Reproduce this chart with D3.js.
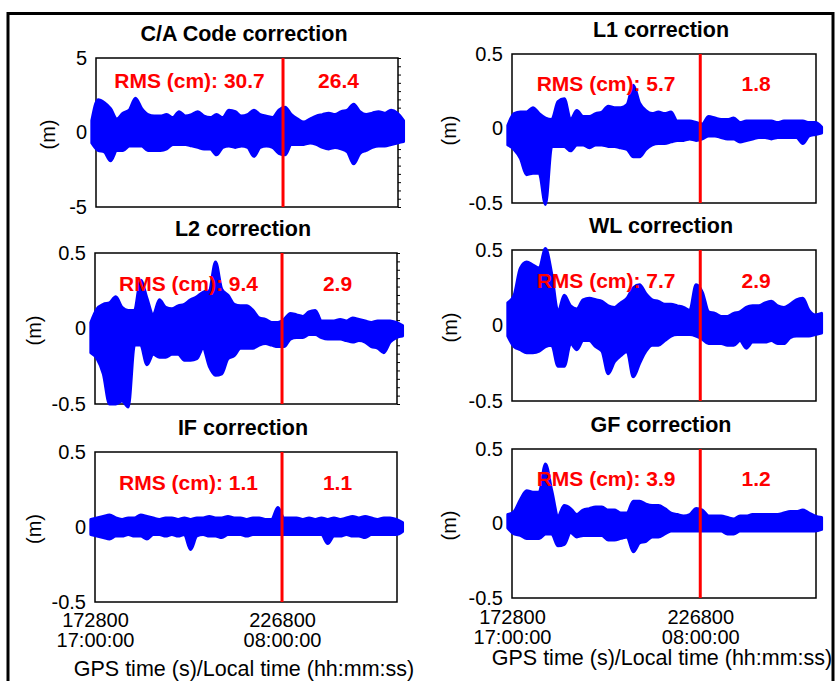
<!DOCTYPE html>
<html><head><meta charset="utf-8">
<script src="https://cdn.jsdelivr.net/npm/d3@7"></script>
<style>
html,body{margin:0;padding:0;background:#fff;}
svg{display:block;}
text{font-family:"Liberation Sans",Arial,sans-serif;}
</style></head><body>
<svg id="chart" width="836" height="681"></svg>
<script>
// ---------- data ----------
const times = [171600,173400,175200,177000,178800,180600,182400,184200,186000,187800,189600,191400,193200,195000,196800,198600,200400,202200,204000,205800,207600,209400,211200,213000,214800,216600,218400,220200,222000,223800,225600,227400,229200,231000,232800,234600,236400,238200,240000,241800,243600,245400,247200,249000,250800,252600,254400,256200,258000,259800,261600];

const titles = ["C/A Code correction","L1 correction","L2 correction","WL correction","IF correction","GF correction"];
const rmsBefore = ["30.7","5.7","9.4","7.7","1.1","3.9"];
const rmsAfter = ["26.4","1.8","2.9","2.9","1.1","1.2"];

const caUpper = [0.8,2.2,2.0,1.6,0.9,1.3,1.5,2.3,1.6,1.2,1.1,1.1,1.2,1.0,1.4,1.1,1.2,1.4,1.1,1.0,1.2,1.0,1.5,1.4,1.1,1.2,1.5,1.2,1.1,1.0,1.5,1.7,1.2,0.9,0.7,0.9,1.1,1.2,1.3,1.2,1.4,1.5,1.9,1.4,1.2,1.3,1.4,1.3,1.5,1.3,0.8];
const caLower = [-0.7,-1.2,-1.3,-1.9,-1.2,-1.2,-0.9,-0.9,-0.9,-1.2,-1.2,-1.2,-1.1,-0.8,-0.8,-0.8,-0.9,-1.0,-1.1,-1.1,-1.5,-1.0,-0.9,-1.0,-0.9,-1.0,-1.6,-1.0,-0.9,-1.0,-1.4,-1.5,-0.8,-0.8,-0.8,-0.7,-0.8,-1.0,-1.1,-1.0,-1.1,-1.3,-2.1,-1.4,-1.2,-1.0,-0.9,-0.9,-0.8,-0.7,-0.6];

const l1Upper = [0.02,0.10,0.11,0.11,0.14,0.10,0.07,0.06,0.18,0.20,0.06,0.12,0.08,0.08,0.10,0.11,0.15,0.14,0.14,0.16,0.29,0.17,0.12,0.10,0.11,0.10,0.11,0.05,0.05,0.05,0.04,0.03,0.08,0.07,0.06,0.06,0.07,0.04,0.05,0.05,0.05,0.05,0.05,0.04,0.05,0.05,0.05,0.05,0.04,0.04,0.01];
const l1Lower = [-0.11,-0.14,-0.20,-0.31,-0.30,-0.30,-0.51,-0.12,-0.12,-0.12,-0.15,-0.11,-0.11,-0.13,-0.11,-0.11,-0.12,-0.12,-0.13,-0.14,-0.19,-0.19,-0.14,-0.11,-0.10,-0.10,-0.09,-0.08,-0.08,-0.07,-0.08,-0.07,-0.05,-0.05,-0.06,-0.07,-0.07,-0.09,-0.08,-0.07,-0.06,-0.06,-0.07,-0.06,-0.06,-0.06,-0.06,-0.10,-0.05,-0.04,-0.03];

const l2Upper = [0.04,0.13,0.16,0.17,0.21,0.14,0.12,0.12,0.32,0.20,0.09,0.19,0.14,0.13,0.15,0.16,0.19,0.21,0.24,0.25,0.44,0.26,0.22,0.16,0.15,0.15,0.12,0.07,0.06,0.04,0.04,0.06,0.10,0.09,0.08,0.11,0.12,0.05,0.05,0.05,0.06,0.05,0.07,0.06,0.05,0.04,0.05,0.05,0.05,0.04,0.02];
const l2Lower = [-0.16,-0.20,-0.30,-0.50,-0.50,-0.48,-0.52,-0.11,-0.11,-0.24,-0.17,-0.19,-0.19,-0.17,-0.17,-0.21,-0.21,-0.20,-0.13,-0.25,-0.31,-0.30,-0.20,-0.18,-0.13,-0.13,-0.13,-0.11,-0.10,-0.11,-0.12,-0.12,-0.07,-0.06,-0.06,-0.04,-0.04,-0.06,-0.07,-0.07,-0.07,-0.08,-0.09,-0.08,-0.09,-0.12,-0.13,-0.16,-0.09,-0.06,-0.05];

const wlUpper = [0.15,0.20,0.38,0.42,0.40,0.38,0.51,0.34,0.09,0.20,0.13,0.11,0.17,0.18,0.17,0.16,0.13,0.12,0.15,0.18,0.25,0.27,0.21,0.17,0.16,0.14,0.14,0.13,0.12,0.10,0.27,0.22,0.09,0.08,0.06,0.06,0.08,0.09,0.12,0.13,0.13,0.15,0.16,0.13,0.12,0.14,0.17,0.18,0.10,0.07,0.08];
const wlLower = [-0.07,-0.14,-0.16,-0.18,-0.18,-0.17,-0.14,-0.13,-0.27,-0.27,-0.12,-0.16,-0.10,-0.10,-0.14,-0.17,-0.32,-0.24,-0.20,-0.17,-0.34,-0.25,-0.17,-0.13,-0.13,-0.10,-0.07,-0.06,-0.06,-0.06,-0.07,-0.09,-0.12,-0.12,-0.12,-0.13,-0.13,-0.10,-0.15,-0.11,-0.11,-0.11,-0.10,-0.12,-0.12,-0.08,-0.07,-0.07,-0.07,-0.06,-0.05];

const ifUpper = [0.05,0.06,0.07,0.08,0.06,0.05,0.06,0.06,0.08,0.07,0.06,0.05,0.06,0.06,0.05,0.06,0.05,0.06,0.06,0.07,0.06,0.06,0.07,0.06,0.06,0.05,0.06,0.06,0.05,0.05,0.13,0.06,0.06,0.06,0.05,0.06,0.05,0.06,0.05,0.06,0.05,0.06,0.07,0.06,0.07,0.06,0.05,0.06,0.06,0.05,0.03];
const ifLower = [-0.05,-0.06,-0.07,-0.08,-0.06,-0.06,-0.05,-0.06,-0.06,-0.08,-0.05,-0.05,-0.06,-0.05,-0.06,-0.05,-0.15,-0.06,-0.05,-0.06,-0.06,-0.07,-0.05,-0.05,-0.05,-0.06,-0.05,-0.05,-0.05,-0.05,-0.05,-0.05,-0.05,-0.05,-0.05,-0.05,-0.05,-0.05,-0.11,-0.06,-0.06,-0.05,-0.06,-0.06,-0.07,-0.05,-0.05,-0.05,-0.05,-0.05,-0.03];

const gfUpper = [0.06,0.08,0.16,0.22,0.21,0.21,0.40,0.22,0.05,0.12,0.10,0.06,0.09,0.10,0.11,0.11,0.09,0.09,0.07,0.07,0.15,0.15,0.13,0.12,0.12,0.10,0.07,0.06,0.05,0.06,0.10,0.09,0.05,0.05,0.05,0.04,0.03,0.05,0.05,0.06,0.06,0.06,0.06,0.06,0.07,0.08,0.08,0.09,0.07,0.05,0.04];
const gfLower = [-0.03,-0.07,-0.08,-0.10,-0.10,-0.10,-0.07,-0.07,-0.15,-0.14,-0.06,-0.09,-0.08,-0.08,-0.08,-0.08,-0.11,-0.11,-0.10,-0.09,-0.19,-0.13,-0.12,-0.09,-0.09,-0.07,-0.05,-0.05,-0.05,-0.05,-0.05,-0.05,-0.05,-0.05,-0.05,-0.07,-0.07,-0.05,-0.05,-0.05,-0.05,-0.05,-0.05,-0.05,-0.05,-0.05,-0.05,-0.05,-0.05,-0.05,-0.04];

const codeYTicks = [-5, 0, 5];
const phaseYTicks = [-0.5, 0, 0.5];
const xTickValues = [172800, 226800];
const xTickLocal = ["17:00:00", "08:00:00"];
const splitTime = 226800;
const timeDomain = [172800, 260000];
const xAxisTitle = "GPS time (s)/Local time (hh:mm:ss)";
const yAxisTitle = "(m)";

// ---------- build ----------
const series = [
  {up: caUpper, lo: caLower, ticks: codeYTicks, rmsAt: 3.0},
  {up: l1Upper, lo: l1Lower, ticks: phaseYTicks, rmsAt: 0.25},
  {up: l2Upper, lo: l2Lower, ticks: phaseYTicks, rmsAt: 0.25},
  {up: wlUpper, lo: wlLower, ticks: phaseYTicks, rmsAt: 0.25},
  {up: ifUpper, lo: ifLower, ticks: phaseYTicks, rmsAt: 0.25},
  {up: gfUpper, lo: gfLower, ticks: phaseYTicks, rmsAt: 0.25}
];
const layout = [
  {x0:96, x1:398, y0:58,  y1:207, ylx:47.5, rightTicks:true},
  {x0:512,x1:816, y0:54,  y1:203, ylx:449},
  {x0:95, x1:397, y0:253, y1:404, ylx:34, rightTicks:true},
  {x0:512,x1:816, y0:250, y1:401, ylx:450},
  {x0:95, x1:397, y0:452, y1:602, ylx:34, xAxis:{l1:627,l2:647,title:676}},
  {x0:512,x1:816, y0:449, y1:598, ylx:449, xAxis:{l1:624,l2:644,title:665}}
];

const svg = d3.select("#chart");
svg.append("rect").attr("x",8).attr("y",13.5).attr("width",825).attr("height",700)
  .attr("fill","none").attr("stroke","#000").attr("stroke-width",3);

series.forEach((s, k) => {
  const L = layout[k];
  const x = d3.scaleLinear().domain(timeDomain).range([L.x0, L.x1]);
  const y = d3.scaleLinear().domain([s.ticks[0], s.ticks[2]]).range([L.y1, L.y0]);
  const g = svg.append("g");

  // frame
  g.append("rect").attr("x",L.x0).attr("y",L.y0).attr("width",L.x1-L.x0).attr("height",L.y1-L.y0)
    .attr("fill","none").attr("stroke","#000").attr("stroke-width",1.5);

  if (L.rightTicks) {
    const lo = s.ticks[0], hi = s.ticks[2];
    const minor = d3.range(19).map(i => lo + i*(hi-lo)/18);
    const ra = g.append("g").attr("transform",`translate(${L.x1},0)`)
      .call(d3.axisRight(y).tickValues(minor).tickSize(3).tickFormat(""));
    ra.select(".domain").remove();
    ra.selectAll("line").attr("stroke","#000");
  }

  // y axis labels
  const ya = g.append("g").attr("transform",`translate(${L.x0},0)`)
    .call(d3.axisLeft(y).tickValues(s.ticks).tickSize(0).tickPadding(9).tickFormat(d => String(d)));
  ya.select(".domain").remove();
  ya.attr("font-size",20).attr("font-family","'Liberation Sans',Arial,sans-serif");
  ya.selectAll("text").attr("fill","#000");

  // y title
  g.append("text").attr("transform",`translate(${L.ylx},${(L.y0+L.y1)/2+2}) rotate(-90)`)
    .attr("text-anchor","middle").attr("dominant-baseline","central")
    .attr("font-size",20).attr("fill","#000").text(yAxisTitle);

  // title
  g.append("text").attr("x",(L.x0+L.x1)/2-3).attr("y",L.y0-17)
    .attr("text-anchor","middle").attr("font-size",21.5).attr("font-weight","bold")
    .attr("fill","#000").text(titles[k]);

  const xs = x(splitTime);

  // band
  const area = d3.area().curve(d3.curveMonotoneX)
    .x((d,i) => x(times[i])).y0((d,i) => y(s.lo[i])).y1((d,i) => y(s.up[i]));
  g.append("path").datum(times).attr("d",area)
    .attr("fill","#0000ff").attr("stroke","#0000ff").attr("stroke-width",3).attr("stroke-linejoin","round");

  // RMS text
  g.append("text").attr("x",(L.x0+xs)/2).attr("y",y(s.rmsAt))
    .attr("text-anchor","middle").attr("font-size",21).attr("font-weight","bold")
    .attr("fill","#ff0000").text("RMS (cm): " + rmsBefore[k]);
  g.append("text").attr("x",(xs+L.x1)/2-2).attr("y",y(s.rmsAt))
    .attr("text-anchor","middle").attr("font-size",21).attr("font-weight","bold")
    .attr("fill","#ff0000").text(rmsAfter[k]);

  // split line
  g.append("line").attr("x1",xs).attr("x2",xs).attr("y1",L.y0).attr("y2",L.y1)
    .attr("stroke","#ff0000").attr("stroke-width",3);

  // x axis
  if (L.xAxis) {
    const xa = g.append("g").attr("transform",`translate(0,${L.y1})`)
      .call(d3.axisBottom(x).tickValues(xTickValues).tickSize(0).tickFormat(d => String(d)));
    xa.select(".domain").remove();
    xa.attr("font-size",20).attr("font-family","'Liberation Sans',Arial,sans-serif");
    xa.selectAll(".tick text").each(function(d, i) {
      const t = d3.select(this).attr("dy", null).attr("y", null).text(null).attr("fill","#000");
      t.append("tspan").attr("x",0).attr("y",L.xAxis.l1 - L.y1).text(String(d));
      t.append("tspan").attr("x",0).attr("y",L.xAxis.l2 - L.y1).text(xTickLocal[i]);
    });
    g.append("text").attr("x",(L.x0+L.x1)/2-2).attr("y",L.xAxis.title)
      .attr("text-anchor","middle").attr("font-size",21.5).attr("fill","#000").text(xAxisTitle);
  }
});
</script>
</body></html>
